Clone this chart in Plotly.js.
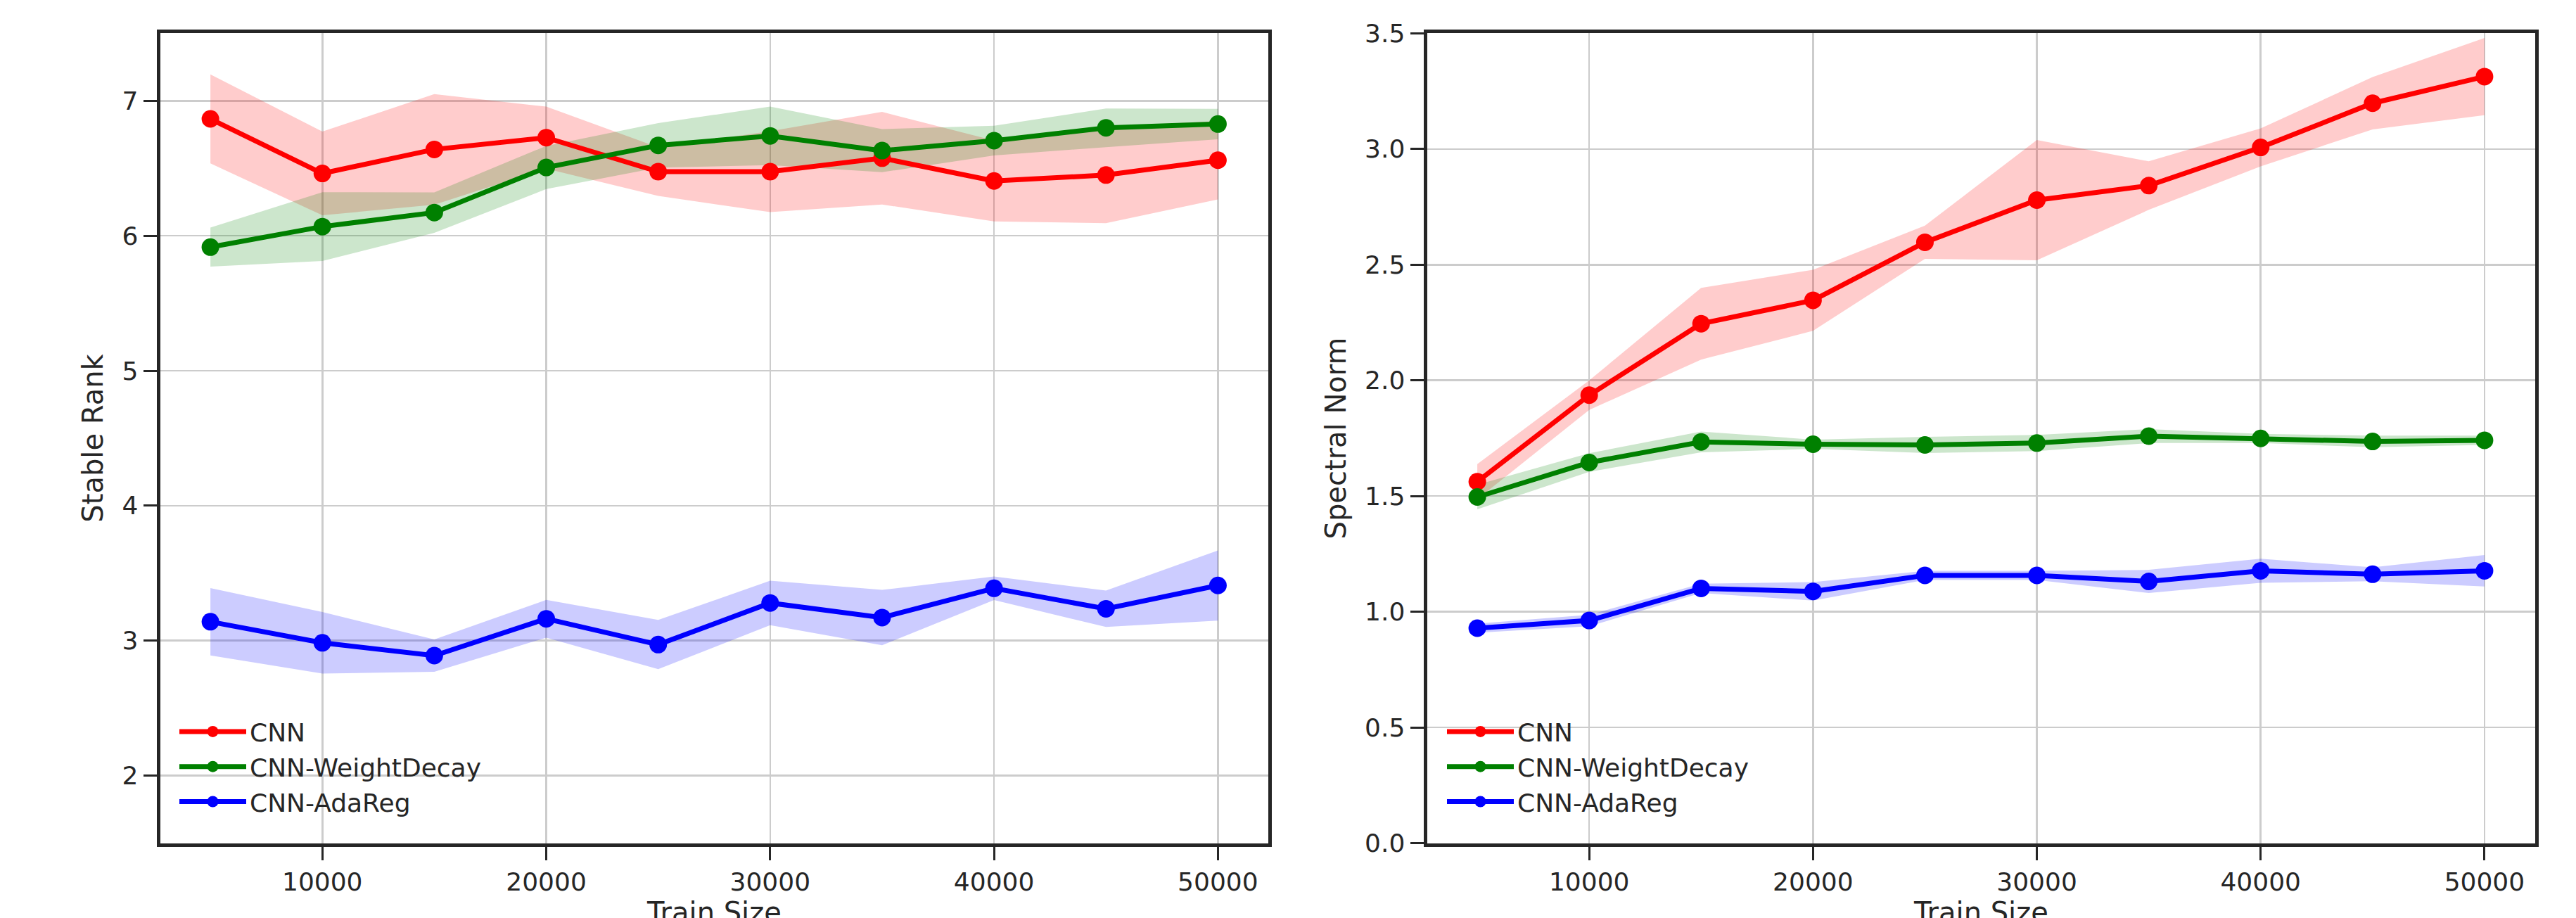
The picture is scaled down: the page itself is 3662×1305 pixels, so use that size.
<!DOCTYPE html>
<html>
<head>
<meta charset="utf-8">
<script src="https://cdn.plot.ly/plotly-3.0.1.min.js"></script>
<style>html,body{margin:0;padding:0;background:#fff;}#chart{width:3662px;height:1305px;}</style>
</head>
<body>
<div id="chart"></div>
<script>
// ---- data ----
const trainSize = [5000, 10000, 15000, 20000, 25000, 30000, 35000, 40000, 45000, 50000];
const seriesNames = ["CNN", "CNN-WeightDecay", "CNN-AdaReg"];
const xTitle = "Train Size";

// Stable Rank (left panel): mean and std
const srCnnMean = [6.866, 6.462, 6.640, 6.727, 6.475, 6.475, 6.575, 6.406, 6.450, 6.560];
const srCnnStd  = [0.330, 0.310, 0.410, 0.230, 0.180, 0.300, 0.343, 0.300, 0.357, 0.290];
const srWdMean  = [5.916, 6.068, 6.172, 6.506, 6.670, 6.740, 6.631, 6.705, 6.800, 6.828];
const srWdStd   = [0.145, 0.255, 0.150, 0.160, 0.165, 0.217, 0.160, 0.110, 0.143, 0.113];
const srAdaMean = [3.140, 2.984, 2.889, 3.162, 2.971, 3.279, 3.171, 3.388, 3.236, 3.409];
const srAdaStd  = [0.250, 0.228, 0.120, 0.140, 0.182, 0.165, 0.205, 0.087, 0.135, 0.260];

// Spectral Norm (right panel): mean and std
const snCnnMean = [1.562, 1.936, 2.245, 2.346, 2.597, 2.779, 2.842, 3.007, 3.198, 3.313];
const snCnnStd  = [0.076, 0.064, 0.155, 0.132, 0.072, 0.260, 0.105, 0.082, 0.113, 0.167];
const snWdMean  = [1.496, 1.645, 1.734, 1.724, 1.721, 1.729, 1.759, 1.749, 1.736, 1.741];
const snWdStd   = [0.053, 0.040, 0.045, 0.020, 0.035, 0.035, 0.030, 0.020, 0.025, 0.020];
const snAdaMean = [0.929, 0.962, 1.101, 1.088, 1.157, 1.157, 1.131, 1.177, 1.162, 1.177];
const snAdaStd  = [0.020, 0.025, 0.020, 0.040, 0.020, 0.020, 0.050, 0.052, 0.030, 0.068];

const xTickVals = [10000, 20000, 30000, 40000, 50000];
const srTickVals = [2, 3, 4, 5, 6, 7];
const snTickVals = [0, 0.5, 1.0, 1.5, 2.0, 2.5, 3.0, 3.5];

// ---- styling ----
const lineColors = ["#ff0000", "#008000", "#0000ff"];
const fillColors = ["rgba(255,0,0,0.2)", "rgba(0,128,0,0.2)", "rgba(0,0,255,0.2)"];
const textColor = "#262626";
const fontFam = "DejaVu Sans, Liberation Sans, sans-serif";

function band(x, mean, std, color, xa, ya) {
  const upper = mean.map((m, i) => m + std[i]);
  const lower = mean.map((m, i) => m - std[i]);
  return {
    x: x.concat(x.slice().reverse()),
    y: upper.concat(lower.slice().reverse()),
    type: "scatter", mode: "lines", fill: "toself",
    fillcolor: color, line: {width: 0, color: "rgba(0,0,0,0)"},
    hoverinfo: "skip", showlegend: false, xaxis: xa, yaxis: ya
  };
}
function line(x, mean, name, color, xa, ya, legend) {
  return {
    x: x, y: mean, name: name, type: "scatter", mode: "lines+markers",
    line: {color: color, width: 7}, marker: {color: color, size: 25},
    xaxis: xa, yaxis: ya, legend: legend
  };
}

const srMeans = [srCnnMean, srWdMean, srAdaMean];
const srStds = [srCnnStd, srWdStd, srAdaStd];
const snMeans = [snCnnMean, snWdMean, snAdaMean];
const snStds = [snCnnStd, snWdStd, snAdaStd];

const traces = [];
for (let k = 0; k < 3; k++) traces.push(band(trainSize, srMeans[k], srStds[k], fillColors[k], "x", "y"));
for (let k = 0; k < 3; k++) traces.push(band(trainSize, snMeans[k], snStds[k], fillColors[k], "x2", "y2"));
for (let k = 0; k < 3; k++) traces.push(line(trainSize, srMeans[k], seriesNames[k], lineColors[k], "x", "y", "legend"));
for (let k = 0; k < 3; k++) traces.push(line(trainSize, snMeans[k], seriesNames[k], lineColors[k], "x2", "y2", "legend2"));

const W = 3662, H = 1305;
const yDom = [1 - 1198.5 / H, 1 - 47.4 / H];

function xAxis(dom) {
  return {
    domain: dom, range: [2750, 52250], tickvals: xTickVals, ticktext: xTickVals.map(String),
    showgrid: true, gridcolor: "#cccccc", gridwidth: 2.5, zeroline: false,
    showline: true, mirror: true, linecolor: textColor, linewidth: 5,
    ticks: "outside", ticklen: 19, tickwidth: 3, tickcolor: textColor,
    tickfont: {family: fontFam, size: 36, color: textColor}
  };
}
function yAxis(range, ticks, fmt, title, anchor) {
  return {
    domain: yDom, range: range, tickvals: ticks, ticktext: ticks.map(v => fmt(v)), anchor: anchor,
    showgrid: true, gridcolor: "#cccccc", gridwidth: 2.5, zeroline: false,
    showline: true, mirror: true, linecolor: textColor, linewidth: 5,
    ticks: "outside", ticklen: 19, tickwidth: 3, tickcolor: textColor,
    tickfont: {family: fontFam, size: 36, color: textColor},
    title: {text: title, font: {family: fontFam, size: 40, color: textColor}, standoff: 16}
  };
}
function legendCfg(x) {
  return {
    x: x, y: 1 - 1010 / H, xanchor: "left", yanchor: "top",
    bgcolor: "rgba(0,0,0,0)", borderwidth: 0,
    font: {family: fontFam, size: 36, color: textColor},
    itemwidth: 95, tracegroupgap: 0
  };
}
function xTitleAnn(xref) {
  return {
    text: xTitle, xref: xref, yref: "paper", x: 0.5, y: 1 - 1272 / H,
    xanchor: "center", yanchor: "top", showarrow: false,
    font: {family: fontFam, size: 40, color: textColor}
  };
}

const layout = {
  width: W, height: H, paper_bgcolor: "#ffffff", plot_bgcolor: "#ffffff",
  margin: {l: 0, r: 0, t: 0, b: 0}, showlegend: true,
  xaxis: xAxis([227.5 / W, 1803 / W]),
  yaxis: yAxis([1.5, 7.5], srTickVals, v => String(v), "Stable Rank", "x"),
  xaxis2: xAxis([2028.5 / W, 3603.5 / W]),
  yaxis2: yAxis([0, 3.5], snTickVals, v => v.toFixed(1), "Spectral Norm", "x2"),
  legend: legendCfg(250 / W),
  legend2: legendCfg(2052 / W),
  annotations: [xTitleAnn("x domain"), xTitleAnn("x2 domain")]
};
layout.xaxis.anchor = "y";
layout.xaxis2.anchor = "y2";

Plotly.newPlot("chart", traces, layout, {staticPlot: true, displayModeBar: false});
</script>
</body>
</html>
